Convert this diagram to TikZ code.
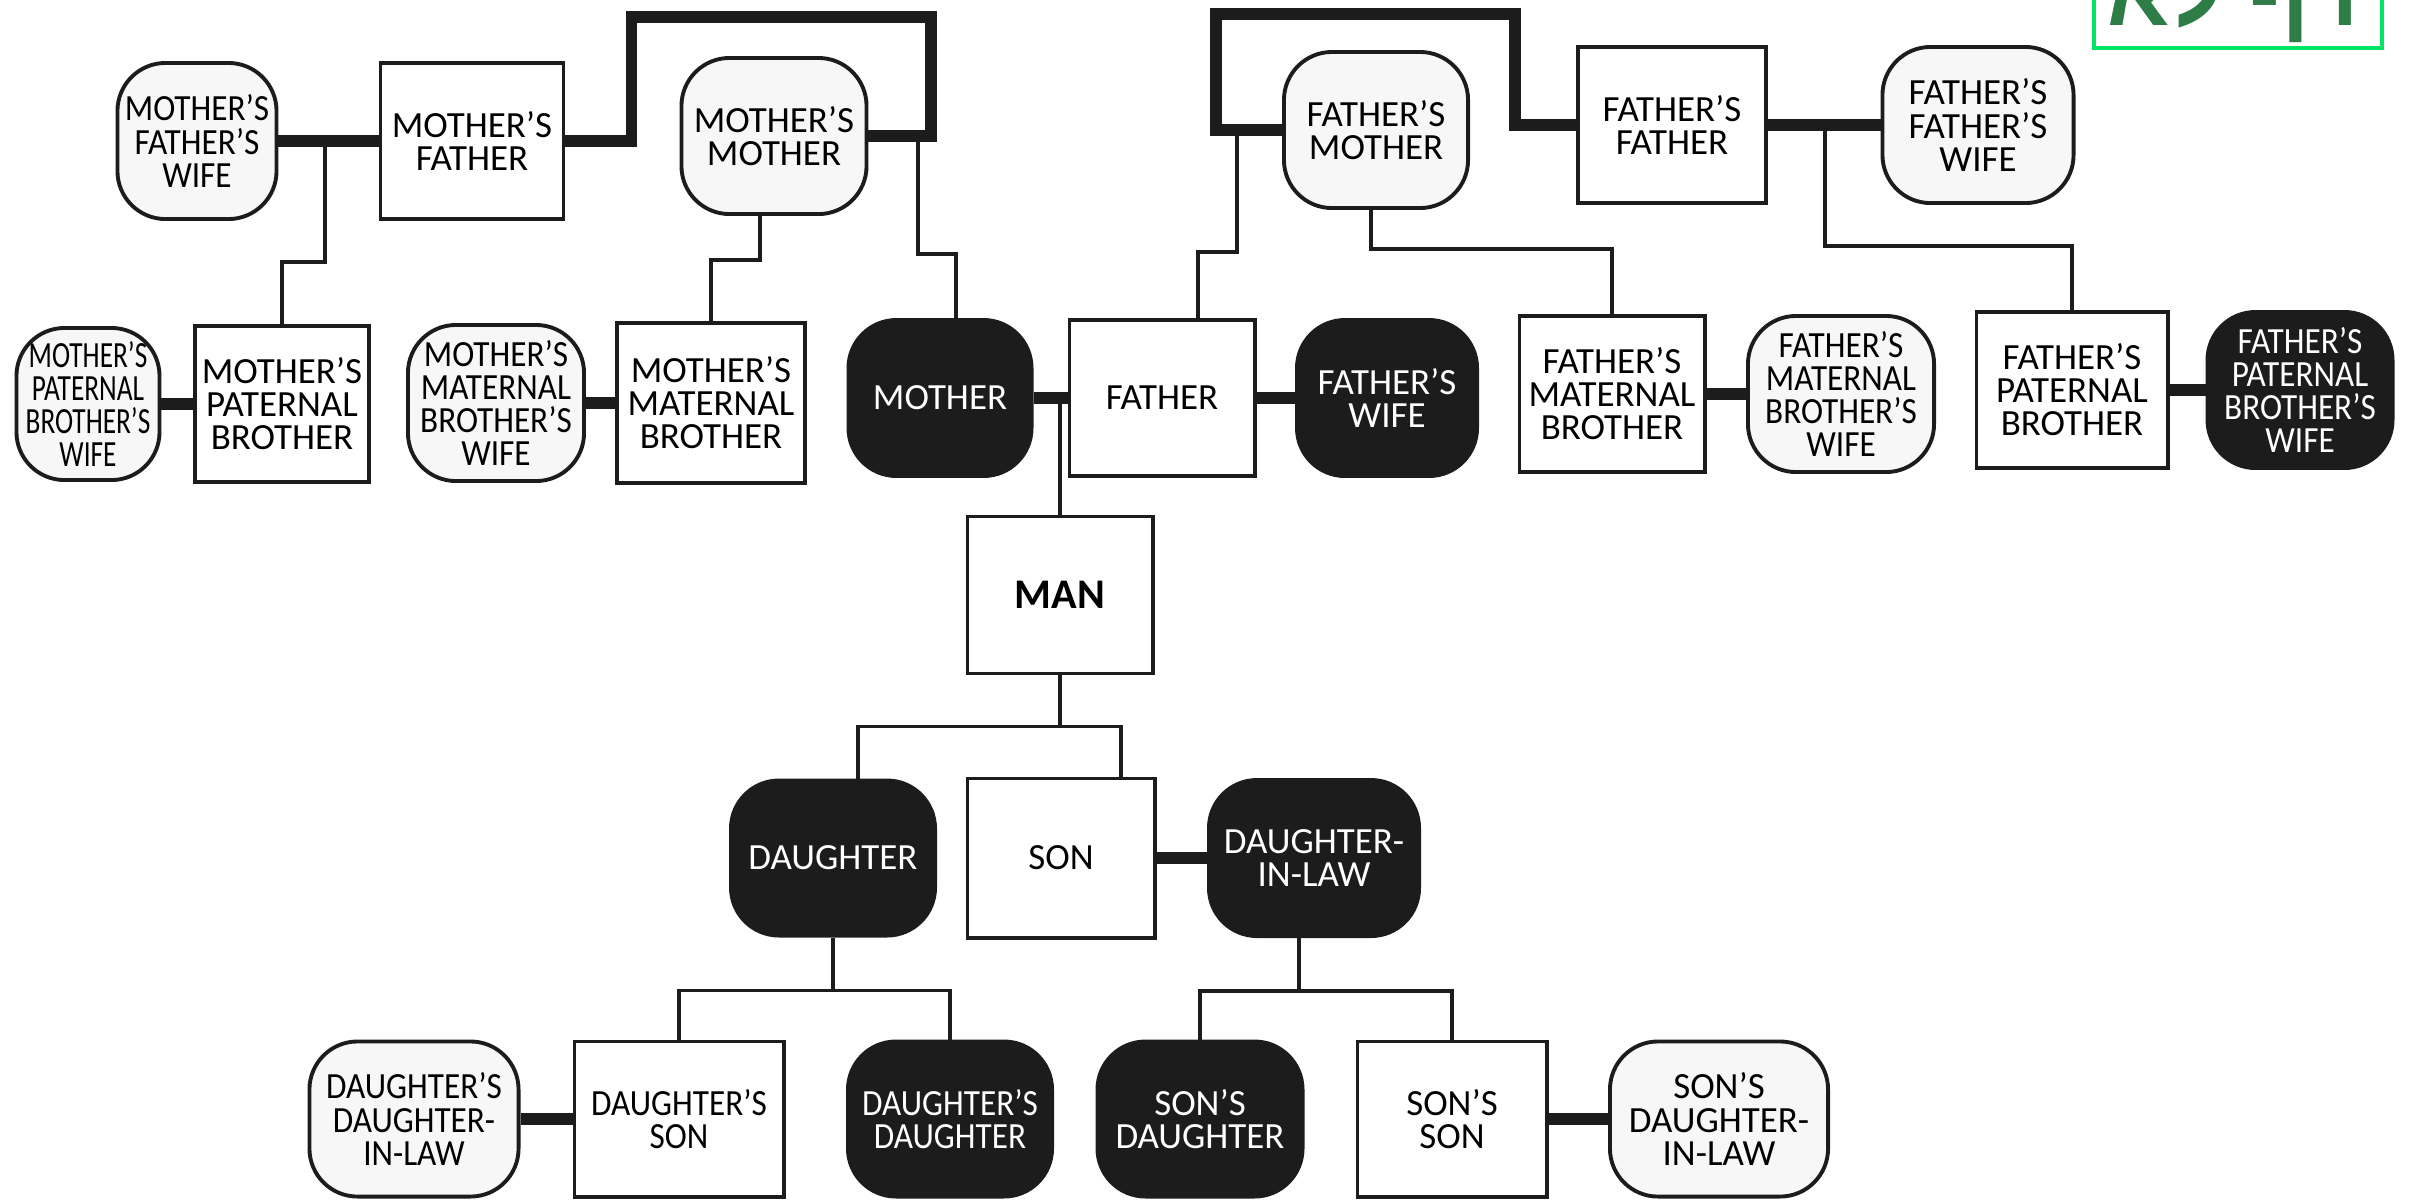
\documentclass[tikz,border=0pt]{standalone}
\usepackage{fontspec}
\setmainfont{Carlito}
\newfontfamily\narrowfont[FakeStretch=0.74]{Carlito}
\newfontfamily\snugfont[FakeStretch=0.9]{Carlito}
\newfontfamily\hebrewfont[Script=Hebrew]{Liberation Sans}
\TeXXeTstate=1

\definecolor{inkblack}{HTML}{1C1C1C}
\definecolor{speckle}{HTML}{F7F7F7}
\definecolor{stampgreen}{HTML}{00E466}
\definecolor{stamptext}{HTML}{2E7D46}

\tikzset{
	person/.style = {draw = inkblack, line width = 1.1pt, align = center, inner sep = 0pt,
		minimum width = 1.85cm, minimum height = 1.56cm, font = \fontsize{10.5}{9.4}\selectfont},
	male/.style = {person, fill = white},
	female/.style = {person, rounded corners = 0.48cm, fill = speckle},
	kin/.style = {person, rounded corners = 0.48cm, fill = inkblack, text = white},
	narrow/.style = {font = \narrowfont\fontsize{10.5}{9.4}\selectfont},
	snug/.style = {font = \snugfont\fontsize{10.5}{9.4}\selectfont},
	marriage/.style = {draw = inkblack, line width = 3.4pt},
	descent/.style = {draw = inkblack, line width = 0.9pt}
}

\begin{document}
\begin{tikzpicture}[x = 0.01cm, y = -0.01cm]

	\useasboundingbox (0, 0) rectangle (2412, 1199);
	\clip (0, 0) rectangle (2412, 1199);

	% Grandparents
	
	\node [female, snug, minimum width = 1.59cm] (mfw) at (197, 141) {MOTHER’S\\FATHER’S\\WIFE};
	\node [male, minimum width = 1.83cm] (mf) at (472, 141) {MOTHER’S\\FATHER};
	\node [female] (mm) at (774, 136) {MOTHER’S\\MOTHER};
	
	\node [female, minimum width = 1.84cm] (fm) at (1376, 130) {FATHER’S\\MOTHER};
	\node [male, minimum width = 1.88cm] (ff) at (1672, 125) {FATHER’S\\FATHER};
	\node [female, minimum width = 1.91cm] (ffw) at (1978, 125) {FATHER’S\\FATHER’S\\WIFE};
	
	% Parents, uncles and their wives
	
	\node [female, narrow, minimum width = 1.43cm, minimum height = 1.52cm] (mpbw) at (88, 404) {MOTHER’S\\PATERNAL\\BROTHER’S\\WIFE};
	\node [male, minimum width = 1.74cm] (mpb) at (282, 404) {MOTHER’S\\PATERNAL\\BROTHER};
	\node [female, snug, minimum width = 1.76cm] (mmbw) at (496, 403) {MOTHER’S\\MATERNAL\\BROTHER’S\\WIFE};
	\node [male, minimum width = 1.88cm, minimum height = 1.60cm] (mmb) at (711, 403) {MOTHER’S\\MATERNAL\\BROTHER};
	\node [kin, minimum width = 1.83cm] (mother) at (940, 398) {MOTHER};
	\node [male] (father) at (1162, 398) {FATHER};
	\node [kin, minimum width = 1.80cm] (fw) at (1387, 398) {FATHER’S\\WIFE};
	\node [male] (fmb) at (1612, 394) {FATHER’S\\MATERNAL\\BROTHER};
	\node [female, snug, minimum width = 1.86cm] (fmbw) at (1841, 394) {FATHER’S\\MATERNAL\\BROTHER’S\\WIFE};
	\node [male, minimum width = 1.91cm] (fpb) at (2072, 390) {FATHER’S\\PATERNAL\\BROTHER};
	\node [kin, snug] (fpbw) at (2300, 390) {FATHER’S\\PATERNAL\\BROTHER’S\\WIFE};
	
	% Man and his children
	
	\node [male, minimum height = 1.57cm, font = \bfseries\fontsize{12}{12}\selectfont] (man) at (1060, 595) {MAN};
	\node [kin, minimum width = 2.04cm, minimum height = 1.55cm] (daughter) at (833, 858) {DAUGHTER};
	\node [male, minimum width = 1.87cm, minimum height = 1.59cm] (son) at (1061, 858) {SON};
	\node [kin, minimum width = 2.10cm] (dil) at (1314, 858) {DAUGHTER-\\IN-LAW};
	
	% Grandchildren
	
	\node [female, snug, minimum width = 2.09cm, minimum height = 1.55cm] (ddil) at (414, 1119) {DAUGHTER’S\\DAUGHTER-\\IN-LAW};
	\node [male, snug, minimum width = 2.09cm, minimum height = 1.55cm] (dson) at (679, 1119) {DAUGHTER’S\\SON};
	\node [kin, snug, minimum width = 2.04cm, minimum height = 1.55cm] (dd) at (950, 1119) {DAUGHTER’S\\DAUGHTER};
	\node [kin, minimum width = 2.05cm, minimum height = 1.55cm] (sd) at (1200, 1119) {SON’S\\DAUGHTER};
	\node [male, minimum width = 1.89cm, minimum height = 1.55cm] (sson) at (1452, 1119) {SON’S\\SON};
	\node [female, minimum width = 2.18cm, minimum height = 1.55cm] (sdil) at (1719, 1119) {SON’S\\DAUGHTER-\\IN-LAW};
	
	% Marriages
	
	\foreach \a/\b in {mfw/mf, ff/ffw, mpbw/mpb, mmbw/mmb, mother/father, father/fw, fmb/fmbw, fpb/fpbw, son/dil, ddil/dson, sson/sdil}
		\draw [marriage] (\a) -- (\b);
	
	\coordinate (mbend) at (931, 17);
	\coordinate (fbend) at (1216, 14);
	\draw [marriage] (mf.east) -- ++(66, 0) |- (mbend) |- (mm.east);
	\draw [marriage] (ff.west) -- ++(-61, 0) |- (fbend) |- (fm.west);
	
	% Descent
	
	\coordinate (mfline) at (325, 141);
	\coordinate (mmline) at (918, 136);
	\coordinate (fmline) at (1237, 130);
	\coordinate (ffline) at (1825, 125);
	
	\draw [descent] (mfline) -- ++(0, 121) -| (mpb.north);
	\draw [descent] ([xshift = -0.14cm]mm.south) -- ++(0, 44) -| (mmb.north);
	\draw [descent] (mmline) -- ++(0, 118) -| ([xshift = 0.16cm]mother.north);
	\draw [descent] (fmline) -- ++(0, 122) -| ([xshift = 0.36cm]father.north);
	\draw [descent] ([xshift = -0.05cm]fm.south) -- ++(0, 39) -| (fmb.north);
	\draw [descent] (ffline) -- ++(0, 121) -| (fpb.north);
	
	\draw [descent] (man.north) -- (man.north |- mother.east);
	\draw [descent] (man.south) -- ++(0, 51) coordinate (manfork);
	\draw [descent] ([xshift = 0.25cm]daughter.north) |- (manfork) -| ([xshift = 0.60cm]son.north);
	
	\draw [descent] (daughter.south) -- ++(0, 53) coordinate (dfork);
	\draw [descent] (dson.north) |- (dfork) -| (dd.north);
	\draw [descent] ([xshift = -0.15cm]dil.south) -- ++(0, 53) coordinate (dilfork);
	\draw [descent] (sd.north) |- (dilfork) -| (sson.north);
	
	% Page stamp
	
	\draw [stampgreen, line width = 1.1pt] (2094, -40) rectangle (2382, 48);
	\node [text = stamptext, font = \hebrewfont\bfseries\fontsize{26}{26}\selectfont, anchor = base] (stamp) at (2234, 25) {\beginR דף לא\endR};

\end{tikzpicture}
\end{document}
